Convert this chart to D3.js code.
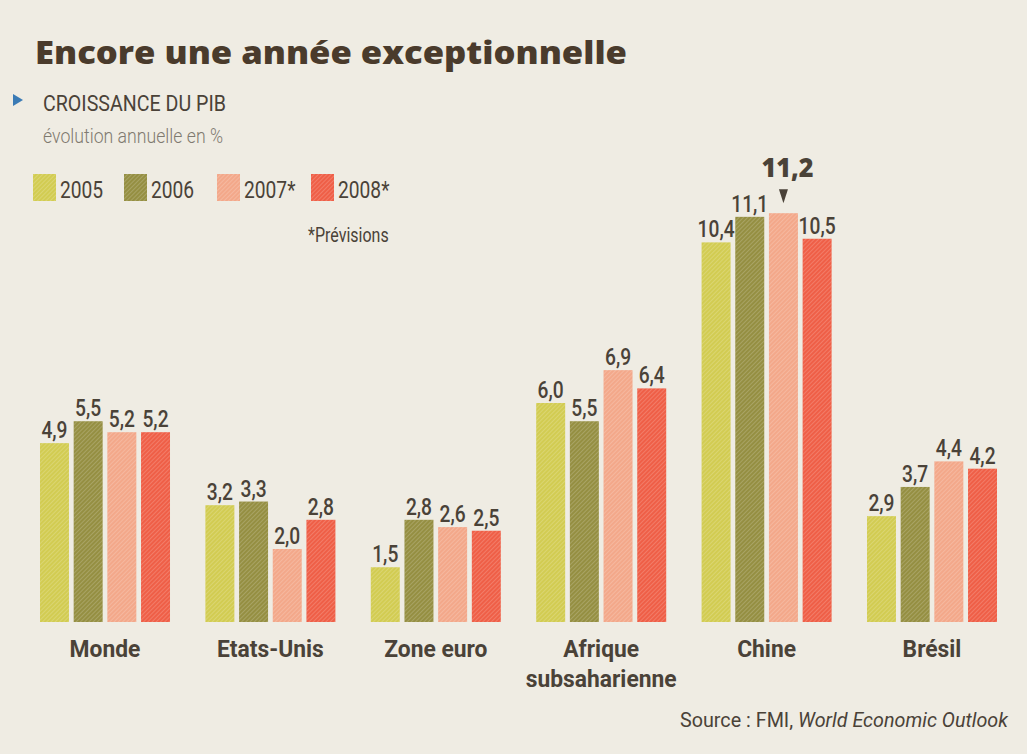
<!DOCTYPE html>
<html>
<head>
<meta charset="utf-8">
<script src="https://cdn.jsdelivr.net/npm/d3@7"></script>
<style>
  html, body { margin: 0; padding: 0; background: #efece3; }
  svg { display: block; }
  .cond { font-family: Roboto, "DejaVu Sans", sans-serif; }
</style>
</head>
<body>
<div id="chart"></div>
<script>

//******************************************************************************
//**  Data
//******************************************************************************
var categories = ["Monde", "Etats-Unis", "Zone euro", "Afrique subsaharienne", "Chine", "Brésil"];
var categoryLines = [["Monde"], ["Etats-Unis"], ["Zone euro"], ["Afrique", "subsaharienne"], ["Chine"], ["Brésil"]];
var years = ["2005", "2006", "2007*", "2008*"];
var v2005 = [4.9, 3.2, 1.5, 6.0, 10.4, 2.9];
var v2006 = [5.5, 3.3, 2.8, 5.5, 11.1, 3.7];
var v2007 = [5.2, 2.0, 2.6, 6.9, 11.2, 4.4];
var v2008 = [5.2, 2.8, 2.5, 6.4, 10.5, 4.2];
var series = [v2005, v2006, v2007, v2008];
var colors = ["#d2cc52", "#958f42", "#f3a88a", "#ef5f47"];
var highlight = {category: "Chine", year: "2007*"};


//******************************************************************************
//**  Chart
//******************************************************************************
var width = 1027, height = 754;
var textColor = "#4a4238";
var fmt = function(v){ return d3.format(".1f")(v).replace(".", ","); };

// squeeze text horizontally, the paper uses a condensed face
var squeeze = function(sel, factor){
    sel.each(function(){
        var len = this.getComputedTextLength();
        d3.select(this)
            .attr("textLength", len * factor)
            .attr("lengthAdjust", "spacingAndGlyphs");
    });
};

var svg = d3.select("#chart").append("svg")
    .attr("width", width)
    .attr("height", height);

svg.append("rect")
    .attr("width", width).attr("height", height)
    .attr("fill", "#efece3");

// hatching like the printed screen
var defs = svg.append("defs");
var pat = defs.append("pattern")
    .attr("id", "hatch")
    .attr("patternUnits", "userSpaceOnUse")
    .attr("width", 3).attr("height", 3)
    .attr("patternTransform", "rotate(45)");
pat.append("rect").attr("width", 1).attr("height", 3)
    .attr("fill", "#ffffff").attr("opacity", 0.18);


//**************************************************************************
//** Titles
//**************************************************************************
svg.append("text")
    .attr("x", 35).attr("y", 64)
    .attr("font-family", "'Open Sans', 'DejaVu Sans', sans-serif")
    .attr("font-weight", 800)
    .attr("font-size", 32)
    .attr("textLength", 592)
    .attr("lengthAdjust", "spacingAndGlyphs")
    .attr("fill", "#4a3b2c")
    .text("Encore une année exceptionnelle");

svg.append("path")
    .attr("d", "M13,94 L23,100 L13,106 Z")
    .attr("fill", "#3b7bb5");

svg.append("text")
    .attr("class", "cond")
    .attr("x", 43).attr("y", 111)
    .attr("font-size", 22)
    .attr("font-weight", 400)
    .attr("textLength", 183)
    .attr("lengthAdjust", "spacingAndGlyphs")
    .attr("fill", textColor)
    .text("CROISSANCE DU PIB");

svg.append("text")
    .attr("class", "cond")
    .attr("x", 43).attr("y", 143)
    .attr("font-size", 21)
    .attr("font-weight", 300)
    .attr("textLength", 180)
    .attr("lengthAdjust", "spacingAndGlyphs")
    .attr("fill", "#7f7a70")
    .text("évolution annuelle en %");


//**************************************************************************
//** Legend
//**************************************************************************
var legendX = [33, 124, 217, 311];
var legend = svg.append("g");
years.forEach(function(yr, i){
    legend.append("rect")
        .attr("x", legendX[i]).attr("y", 174)
        .attr("width", 23).attr("height", 27)
        .attr("fill", colors[i]);
    legend.append("rect")
        .attr("x", legendX[i]).attr("y", 174)
        .attr("width", 23).attr("height", 27)
        .attr("fill", "url(#hatch)");
    legend.append("text")
        .attr("class", "cond")
        .attr("x", legendX[i] + 27).attr("y", 198)
        .attr("font-size", 24)
        .attr("fill", textColor)
        .text(yr)
        .call(squeeze, 0.8);
});

svg.append("text")
    .attr("class", "cond")
    .attr("x", 308).attr("y", 242)
    .attr("font-size", 20)
    .attr("fill", textColor)
    .text("*Prévisions")
    .call(squeeze, 0.8);


//**************************************************************************
//** Bars
//**************************************************************************
var x0 = d3.scaleBand()
    .domain(categories)
    .range([40, 997])
    .paddingInner(0.214)
    .paddingOuter(0);

var x1 = d3.scaleBand()
    .domain(years)
    .range([0, x0.bandwidth()])
    .paddingInner(0.14)
    .paddingOuter(0);

var y = d3.scaleLinear()
    .domain([0, 12])
    .range([622, 622 - 12 * 36.5]);

var rows = [];
categories.forEach(function(c, ci){
    years.forEach(function(yr, si){
        rows.push({category: c, year: yr, value: series[si][ci], color: colors[si]});
    });
});

var groups = svg.append("g").selectAll("g")
    .data(rows)
    .enter()
    .append("g")
    .attr("transform", function(d){ return "translate(" + (x0(d.category) + x1(d.year)) + ",0)"; });

groups.append("rect")
    .attr("y", function(d){ return y(d.value); })
    .attr("width", x1.bandwidth())
    .attr("height", function(d){ return y(0) - y(d.value); })
    .attr("fill", function(d){ return d.color; });

groups.append("rect")
    .attr("y", function(d){ return y(d.value); })
    .attr("width", x1.bandwidth())
    .attr("height", function(d){ return y(0) - y(d.value); })
    .attr("fill", "url(#hatch)");

groups.each(function(d){
    var g = d3.select(this);
    var cx = x1.bandwidth() / 2;
    var isHi = d.category === highlight.category && d.year === highlight.year;
    if (isHi){
        var top = y(d.value);
        g.append("path")
            .attr("d", "M" + (cx - 4.5) + "," + (top - 24) + " L" + (cx + 4.5) + "," + (top - 24) + " L" + cx + "," + (top - 10) + " Z")
            .attr("fill", textColor);
        g.append("text")
            .attr("x", cx + 4).attr("y", top - 36)
            .attr("text-anchor", "middle")
            .attr("font-family", "'Open Sans', 'DejaVu Sans', sans-serif")
            .attr("font-weight", 800)
            .attr("font-size", 26)
            .attr("textLength", 52)
            .attr("lengthAdjust", "spacingAndGlyphs")
            .attr("fill", textColor)
            .text(fmt(d.value));
    }
    else{
        g.append("text")
            .attr("class", "cond")
            .attr("x", cx).attr("y", y(d.value) - 5)
            .attr("text-anchor", "middle")
            .attr("font-size", 24)
            .attr("font-weight", 500)
            .attr("fill", textColor)
            .text(fmt(d.value))
            .call(squeeze, 0.8);
    }
});


//**************************************************************************
//** Category labels
//**************************************************************************
categories.forEach(function(c, i){
    var cx = x0(c) + x0.bandwidth() / 2;
    categoryLines[i].forEach(function(line, li){
        svg.append("text")
            .attr("class", "cond")
            .attr("x", cx)
            .attr("y", 657 + li * 30)
            .attr("text-anchor", "middle")
            .attr("font-size", 24)
            .attr("font-weight", "bold")
            .attr("fill", textColor)
            .text(line)
            .call(squeeze, 0.95);
    });
});


//**************************************************************************
//** Source
//**************************************************************************
var src = svg.append("text")
    .attr("class", "cond")
    .attr("x", 1008).attr("y", 727)
    .attr("text-anchor", "end")
    .attr("font-size", 21)
    .attr("fill", textColor)
    .attr("textLength", 328)
    .attr("lengthAdjust", "spacingAndGlyphs");
src.append("tspan").text("Source : FMI, ");
src.append("tspan").attr("font-style", "italic").text("World Economic Outlook");

</script>
</body>
</html>
